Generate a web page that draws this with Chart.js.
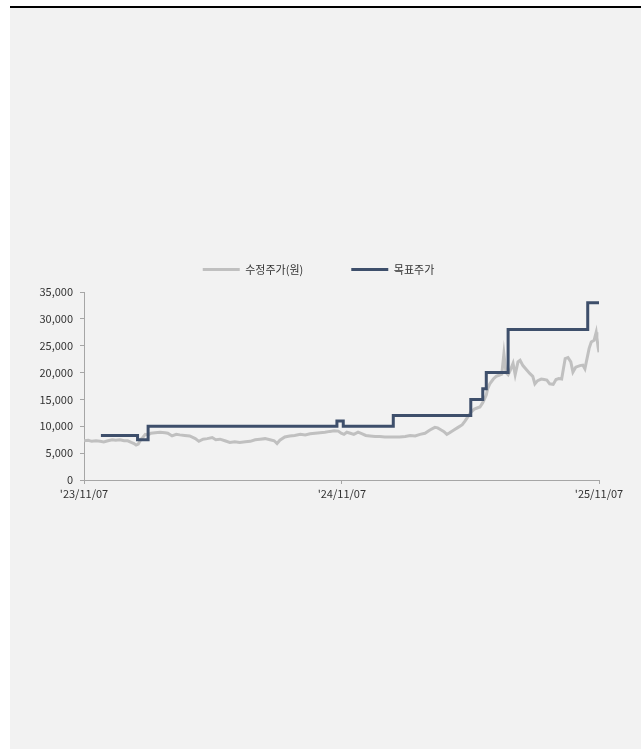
<!DOCTYPE html>
<html>
<head>
<meta charset="utf-8">
<script src="https://cdn.jsdelivr.net/npm/chart.js@4"></script>
<style>
  html, body { margin: 0; padding: 0; background: #ffffff; }
  body { width: 641px; height: 749px; position: relative; overflow: hidden; }
  #panel { position: absolute; left: 10px; top: 6px; width: 631px; height: 743px;
           background: #f2f2f2; border-top: 2px solid #000; box-sizing: border-box; }
  #chart { position: absolute; left: 38px; top: 216px; }
</style>
</head>
<body>
<div id="panel"></div>
<canvas id="chart" width="603" height="296"></canvas>
<script>
// x values are days counted from 2023-11-07
const priceDays = [0, 6, 11, 17, 23, 28, 34, 40, 45, 51, 57, 62, 67, 71, 74, 77, 81, 84, 87, 91,
  95, 101, 108, 115, 119, 125, 131, 136, 143, 150, 158, 163, 169, 175, 182, 187, 193, 200, 207, 214,
  221, 229, 236, 243, 250, 257, 264, 270, 274, 278, 285, 292, 299, 307, 314, 321, 328, 335, 342, 349,
  355, 361, 365, 369, 373, 378, 383, 389, 395, 400, 406, 413, 420, 427, 434, 441, 448, 456, 463, 470,
  477, 484, 491, 498, 502, 507, 511, 515, 519, 525, 531, 537, 541, 545, 549, 554, 558, 562, 566, 571,
  573, 576, 581, 585, 589, 593, 596, 599, 602, 605, 609, 612, 616, 619, 623, 629, 633, 637, 640, 644,
  649, 653, 657, 661, 666, 670, 674, 678, 683, 687, 691, 694, 698, 704, 708, 711, 714, 717, 720, 724,
  727, 728, 730, 731];
const priceValues = [7300, 7400, 7200, 7300, 7200, 7100, 7300, 7500, 7400, 7500, 7300, 7300, 7000, 6800, 6500, 6700, 7600, 8000, 8500, 8400,
  8700, 8800, 8900, 8800, 8700, 8200, 8500, 8400, 8300, 8200, 7700, 7200, 7600, 7700, 7900, 7500, 7600, 7300, 7000, 7100,
  7000, 7100, 7200, 7500, 7600, 7700, 7500, 7300, 6800, 7400, 8000, 8200, 8300, 8500, 8400, 8600, 8700, 8800, 8900, 9050,
  9150, 9100, 8700, 8500, 8900, 8700, 8500, 8900, 8600, 8300, 8200, 8100, 8100, 8000, 8000, 8000, 8000, 8100, 8300, 8200,
  8500, 8700, 9300, 9800, 9700, 9300, 9000, 8500, 8800, 9300, 9800, 10300, 11000, 11800, 12600, 13200, 13400, 13600, 14400, 15800,
  17000, 17900, 18800, 19300, 19500, 19700, 23500, 20000, 19600, 20400, 21700, 19600, 22000, 22300, 21300, 20400, 19800, 19300, 17900, 18500,
  18800, 18700, 18600, 17900, 17800, 18700, 18900, 18800, 22600, 22800, 22000, 20100, 21000, 21300, 21400, 20700, 22600, 24500, 25700, 26000,
  27500, 26500, 24500, 23800];

// Target price: each value holds until the next change day
const targetDays = [24, 76, 91, 359, 368, 439, 549, 566, 571, 602, 715, 731];
const targetValues = [8300, 7500, 10000, 11000, 10000, 12000, 15000, 17000, 20000, 28000, 33000, 33000];

const xTickDays = [0, 366, 731];
const xTickLabels = ["'23/11/07", "'24/11/07", "'25/11/07"];

const seriesNames = ['수정주가(원)', '목표주가'];

const toPoints = (xs, ys) => xs.map((d, i) => ({ x: d, y: ys[i] }));

// Legend: fixed height so the gap to the plot stays compact
const legendHeight = {
  id: 'legendHeight',
  beforeLayout(chart) {
    const lg = chart.legend;
    if (lg && !lg._fixedFit) {
      const orig = lg.fit;
      lg.fit = function () { orig.call(this); this.height = 76; };
      lg._fixedFit = true;
    }
  }
};

const FONT = "'Noto Sans CJK KR', 'Noto Sans', sans-serif";
const AXIS = '#a6a6a6';

new Chart(document.getElementById('chart'), {
  type: 'line',
  data: {
    datasets: [
      {
        label: seriesNames[0],
        data: toPoints(priceDays, priceValues),
        borderColor: '#c0c0c0',
        backgroundColor: '#c0c0c0',
        borderWidth: 3,
        pointRadius: 0,
        pointStyle: 'line',
        tension: 0,
        order: 1
      },
      {
        label: seriesNames[1],
        data: toPoints(targetDays, targetValues),
        borderColor: '#3e4f6b',
        backgroundColor: '#3e4f6b',
        borderWidth: 3,
        pointRadius: 0,
        pointStyle: 'line',
        stepped: true,
        order: 0
      }
    ]
  },
  options: {
    responsive: false,
    devicePixelRatio: 1,
    animation: false,
    layout: { padding: { left: 0, right: 42, top: 0, bottom: 0 } },
    plugins: {
      tooltip: { enabled: false },
      legend: {
        position: 'top',
        labels: {
          usePointStyle: true,
          pointStyleWidth: 37,
          padding: 48,
          color: '#333',
          font: { family: FONT, size: 11 },
          sort: (a, b) => a.datasetIndex - b.datasetIndex
        }
      }
    },
    scales: {
      x: {
        type: 'linear',
        min: 0,
        max: 731,
        afterBuildTicks(scale) { scale.ticks = xTickDays.map(v => ({ value: v })); },
        afterFit(scale) { scale.height = 32; },
        ticks: {
          autoSkip: false,
          maxRotation: 0,
          padding: 3,
          color: '#333',
          font: { family: FONT, size: 11 },
          callback: (v) => xTickLabels[xTickDays.indexOf(v)]
        },
        grid: { drawOnChartArea: false, drawTicks: true, tickLength: 4, color: AXIS },
        border: { color: AXIS }
      },
      y: {
        min: 0,
        max: 35000,
        afterFit(scale) { scale.width = 46; },
        ticks: {
          stepSize: 5000,
          padding: 7,
          color: '#333',
          font: { family: FONT, size: 11 },
          callback: (v) => v.toLocaleString('en-US')
        },
        grid: { drawOnChartArea: false, drawTicks: true, tickLength: 4, color: AXIS },
        border: { color: AXIS }
      }
    }
  },
  plugins: [legendHeight]
});
</script>
</body>
</html>
